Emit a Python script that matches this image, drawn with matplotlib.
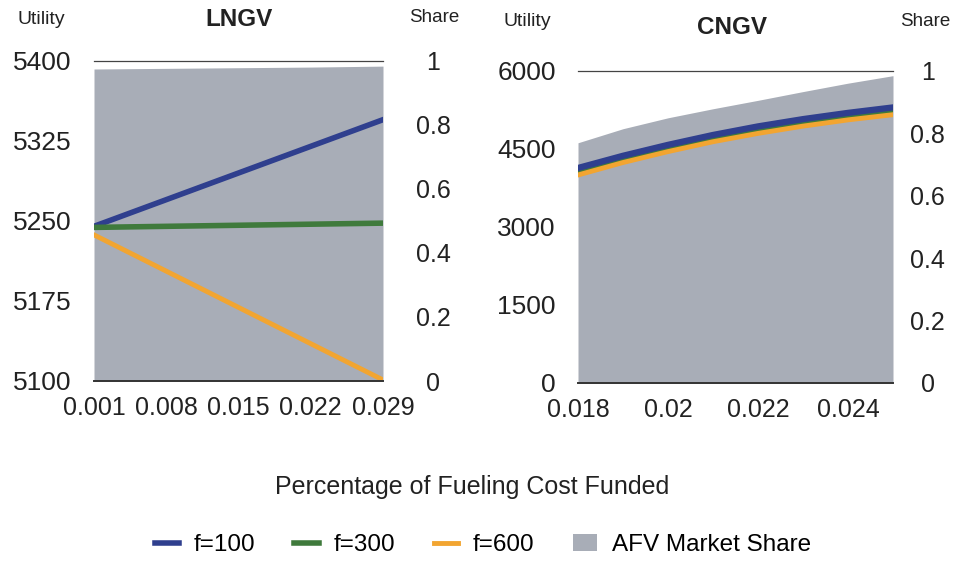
import numpy as np
import matplotlib.pyplot as plt
from matplotlib.patches import Patch
from matplotlib.lines import Line2D

plt.rcParams['font.family'] = ['Liberation Sans', 'DejaVu Sans']

# LNGV data
lngv_x = [0.001, 0.008, 0.015, 0.022, 0.029]
lngv_f100 = [5245, 5270, 5295, 5320, 5345]
lngv_f300 = [5244, 5245, 5246, 5247, 5248]
lngv_f600 = [5237, 5203, 5169, 5135, 5101]
lngv_share = [0.975, 0.977, 0.979, 0.981, 0.984]
lngv_xticks = ['0.001', '0.008', '0.015', '0.022', '0.029']
lngv_yticks = [5100, 5175, 5250, 5325, 5400]

# CNGV data
cngv_x = [0.018, 0.019, 0.020, 0.021, 0.022, 0.023, 0.024, 0.025]
cngv_f100 = [4135, 4370, 4580, 4770, 4935, 5075, 5195, 5300]
cngv_f300 = [4065, 4300, 4515, 4705, 4870, 5010, 5130, 5235]
cngv_f600 = [4000, 4240, 4450, 4640, 4800, 4940, 5060, 5160]
cngv_share = [0.77, 0.815, 0.85, 0.879, 0.906, 0.934, 0.961, 0.985]
cngv_xticks = [0.018, 0.020, 0.022, 0.024]
cngv_xlabels = ['0.018', '0.02', '0.022', '0.024']
cngv_yticks = [0, 1500, 3000, 4500, 6000]

share_ticks = [0, 0.2, 0.4, 0.6, 0.8, 1]
share_labels = ['0', '0.2', '0.4', '0.6', '0.8', '1']

c_blue = '#2f3f8e'
c_green = '#3f7a3c'
c_orange = '#f2a531'
c_gray = '#a8adb7'

W, H = 961, 562
fig = plt.figure(figsize=(W / 100, H / 100), dpi=100)


def box(x0, y0, x1, y1):
    return [x0 / W, 1 - y1 / H, (x1 - x0) / W, (y1 - y0) / H]


def style(ax, ax2, rpad):
    for s in ['left', 'right']:
        ax.spines[s].set_visible(False)
        ax2.spines[s].set_visible(False)
    ax.spines['top'].set_color('#444444')
    ax.spines['top'].set_linewidth(0.9)
    ax.spines['bottom'].set_color('#333333')
    ax.spines['bottom'].set_linewidth(1.4)
    ax2.spines['top'].set_visible(False)
    ax2.spines['bottom'].set_visible(False)
    ax.tick_params(axis='y', length=0, labelsize=19, pad=16, colors='#222222')
    ax.tick_params(axis='x', length=0, labelsize=18, pad=11, colors='#222222')
    ax2.tick_params(length=0, labelsize=18, pad=rpad, colors='#222222')
    ax2.set_ylim(0, 1)
    ax2.set_yticks(share_ticks)
    ax2.set_yticklabels(share_labels, ha='center')
    ax.set_zorder(ax2.get_zorder() + 1)
    ax.patch.set_visible(False)


# LNGV panel
ax1 = fig.add_axes(box(94, 61, 383, 381))
ax1b = ax1.twinx()
ax1b.fill_between(lngv_x, 0, lngv_share, color=c_gray, lw=0)
ax1.plot(lngv_x, lngv_f100, color=c_blue, lw=4)
ax1.plot(lngv_x, lngv_f300, color=c_green, lw=4)
ax1.plot(lngv_x, lngv_f600, color=c_orange, lw=3.5)
ax1.set_xlim(0.001, 0.029)
ax1.set_ylim(5100, 5400)
ax1.set_xticks(lngv_x)
ax1.set_xticklabels(lngv_xticks)
ax1.set_yticks(lngv_yticks)
style(ax1, ax1b, 36)

# CNGV panel
ax2 = fig.add_axes(box(578, 71, 893, 383))
ax2b = ax2.twinx()
ax2b.fill_between(cngv_x, 0, cngv_share, color=c_gray, lw=0)
ax2.plot(cngv_x, cngv_f300, color=c_green, lw=4)
ax2.plot(cngv_x, cngv_f600, color=c_orange, lw=3.5)
ax2.plot(cngv_x, cngv_f100, color=c_blue, lw=4.5)
ax2.set_xlim(0.018, 0.025)
ax2.set_ylim(0, 6000)
ax2.set_xticks(cngv_xticks)
ax2.set_xticklabels(cngv_xlabels)
ax2.set_yticks(cngv_yticks)
style(ax2, ax2b, 25)

# header texts
def ftext(x, y, s, **kw):
    fig.text(x / W, 1 - y / H, s, ha='center', va='center', color='#222222', **kw)

ftext(41, 20, 'Utility', fontsize=14)
ftext(239, 19, 'LNGV', fontsize=17.5, fontweight='bold')
ftext(434, 18, 'Share', fontsize=13.5)
ftext(527, 22, 'Utility', fontsize=14)
ftext(732, 28, 'CNGV', fontsize=17.5, fontweight='bold')
ftext(925, 22, 'Share', fontsize=13.5)

ftext(472, 487, 'Percentage of Fueling Cost Funded', fontsize=18)

handles = [
    Line2D([], [], color=c_blue, lw=4),
    Line2D([], [], color=c_green, lw=4),
    Line2D([], [], color=c_orange, lw=3.5),
    Patch(facecolor=c_gray, edgecolor='none'),
]
labels = ['f=100', 'f=300', 'f=600', 'AFV Market Share']
fig.legend(handles, labels, loc='center', bbox_to_anchor=(483 / W, 1 - 545 / H),
           ncol=4, frameon=False, fontsize=17.5, handlelength=1.0,
           handletextpad=0.6, columnspacing=1.6)

fig.savefig('out.png', dpi=100)
